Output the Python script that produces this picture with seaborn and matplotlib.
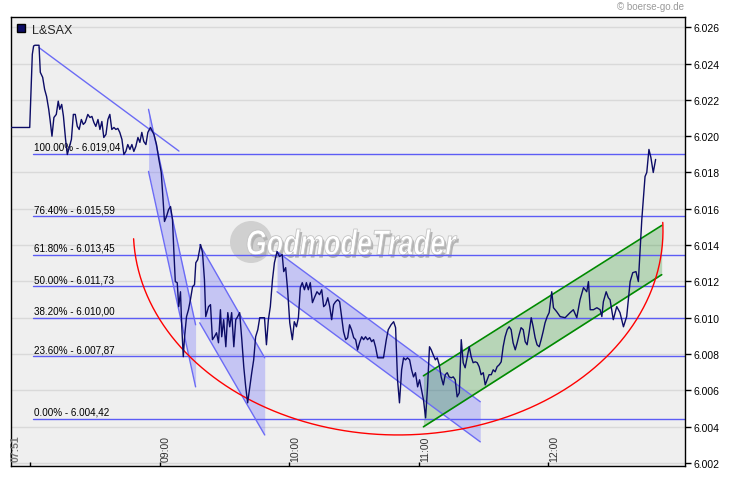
import numpy as np
import pandas as pd
import matplotlib as mpl
mpl.use("Agg")
import matplotlib.pyplot as plt
import seaborn as sns
from matplotlib.patches import Patch, Ellipse, PathPatch
from matplotlib.textpath import TextPath
from matplotlib.font_manager import FontProperties
from matplotlib.transforms import Affine2D, IdentityTransform

# minutes relative to 09:00 (07:51 = -69)
minutes = [
    -69.0, -60.1, -58.9, -58.3, -57.7, -55.8, -55.2, -54.1, -53.2, -52.3, -51.3, -50.7,
    -49.8, -48.9, -47.8, -46.9, -46.2, -45.3, -44.5, -43.5, -42.7, -41.8, -40.8, -39.9,
    -39.0, -38.1, -37.2, -36.2, -35.3, -34.4, -33.2, -32.2, -31.3, -30.4, -29.5, -28.5,
    -27.6, -26.7, -25.8, -24.8, -23.9, -23.0, -22.1, -21.1, -20.2, -19.3, -18.4, -17.4,
    -16.5, -15.6, -14.7, -13.7, -12.8, -11.9, -11.0, -10.0, -9.1, -8.2, -7.3, -6.3,
    -5.4, -4.2, -2.6, -1.4, -0.3,
    0.8, 1.7, 2.3, 3.2, 4.2, 5.1, 6.0, 6.6, 7.3, 8.2, 8.9, 9.7, 10.3, 11.0, 11.6, 12.5,
    13.4, 14.3, 15.3, 16.2, 16.8, 17.7, 19.0, 19.9, 20.8, 21.4, 22.7, 23.6, 24.5, 25.4,
    26.4, 27.3, 28.2, 28.8, 29.7, 30.7, 31.6, 32.5, 33.4, 34.4, 35.3, 36.2, 37.1, 38.1,
    39.0, 39.9, 40.8, 41.8, 42.7, 43.6, 44.5, 45.5, 46.4, 47.3, 48.6, 49.5, 50.4, 51.3,
    52.3, 53.2, 54.4,
    55.6, 56.8, 57.5, 58.4, 59.3, 60.3, 61.5, 62.4, 63.4, 64.3, 65.2, 66.1, 67.1, 68.0,
    68.9, 69.8, 70.8, 71.7, 72.9, 74.1, 75.1, 76.0, 76.9, 77.9, 78.8, 79.7, 80.6, 81.5,
    82.5, 83.4, 84.3, 85.2, 86.2, 87.1, 88.0, 88.9, 89.9, 90.8, 91.7, 92.6, 93.6, 94.5,
    95.4, 96.3, 97.3, 98.2, 99.1, 100.0, 101.0, 101.9, 102.8, 103.7, 105.0, 105.9, 107.2,
    108.4, 109.3, 110.2, 111.1, 112.1, 113.0, 113.9, 114.8, 115.8, 116.7, 117.6, 118.5,
    119.5, 120.4, 121.3, 122.2, 123.2, 124.1, 125.0,
    125.8, 126.7, 127.7, 128.6, 129.5, 130.4, 131.4, 132.3, 133.2, 134.1, 135.1, 136.0,
    136.9, 137.8, 138.8, 139.7, 140.6, 141.5, 142.5, 143.4, 144.3, 145.2, 146.2, 147.1,
    148.0, 148.9, 149.9, 150.8, 151.7, 152.6, 153.6, 154.5, 155.4, 156.3, 157.3, 158.2,
    159.1, 160.0, 161.0, 161.9, 162.8, 163.7, 164.7, 165.6, 166.5, 167.4, 168.4, 169.3,
    170.2, 171.1, 172.1, 173.0, 173.9, 174.8, 175.8, 176.7, 177.6, 178.5, 179.5, 180.4,
    181.6, 182.4, 183.9, 185.5, 187.8, 190.1, 191.6, 193.2, 194.7, 196.3, 197.8, 198.6,
    199.4, 200.9, 202.5, 204.0, 204.8, 205.5, 206.8, 207.8, 208.6, 210.1, 211.7, 213.2,
    214.8, 216.3, 217.9, 219.1, 220.6, 221.7, 222.5, 223.3, 224.0, 224.8, 225.6, 226.6,
    227.5, 228.6, 229.7,
]
prices = [
    6.02048, 6.02048, 6.02451, 6.02497, 6.02501, 6.02501, 6.02352, 6.02324, 6.02258, 6.02219, 6.02148, 6.02092,
    6.02000, 6.02103, 6.02120, 6.02193, 6.02148, 6.02175, 6.02111, 6.01982, 6.01899, 6.01938, 6.01982, 6.02120,
    6.02120, 6.02055, 6.02037, 6.02092, 6.02065, 6.02076, 6.02120, 6.02103, 6.02109, 6.02076, 6.02054, 6.02092,
    6.02037, 6.02081, 6.01993, 6.02010, 6.02092, 6.02120, 6.02037, 6.02048, 6.02037, 6.02043, 6.02021, 6.01982,
    6.01899, 6.01916, 6.01954, 6.01927, 6.01954, 6.01916, 6.01943, 6.01993, 6.01966, 6.02021, 6.01971, 6.01954,
    6.02021, 6.02048, 6.02010, 6.01954, 6.01872,
    6.01800, 6.01634, 6.01530, 6.01557, 6.01596, 6.01612, 6.01541, 6.01375, 6.01199, 6.01193, 6.01061, 6.01143, 6.00950, 6.00785, 6.00895, 6.01006,
    6.01044, 6.01099, 6.01171, 6.01182, 6.01303, 6.01320, 6.01403, 6.01359, 6.01210, 6.01006, 6.01061, 6.01072, 6.00879, 6.00895,
    6.00917, 6.00862, 6.01044, 6.00895, 6.00989, 6.00840, 6.01028, 6.00950, 6.01028, 6.00840, 6.00989, 6.01006, 6.01028, 6.00879,
    6.00730, 6.00619, 6.00531, 6.00619, 6.00697, 6.00768, 6.00895, 6.00934, 6.01000, 6.01000, 6.01000, 6.00851, 6.00989, 6.01061,
    6.01210, 6.01303, 6.01364,
    6.01337, 6.01348, 6.01254, 6.01276, 6.01154, 6.00972, 6.00879, 6.00978, 6.00950, 6.01000, 6.01166, 6.01193, 6.01154, 6.01193,
    6.01154, 6.01193, 6.01083, 6.01110, 6.01143, 6.01127, 6.01154, 6.01061, 6.01072, 6.01110, 6.01061, 6.00989, 6.01072, 6.01088,
    6.01099, 6.01088, 6.01006, 6.00923, 6.00879, 6.00890, 6.00961, 6.00934, 6.00890, 6.00879, 6.00823, 6.00862, 6.00895, 6.00879,
    6.00895, 6.00879, 6.00890, 6.00868, 6.00879, 6.00840, 6.00779, 6.00779, 6.00779, 6.00779, 6.00879, 6.00934, 6.00961,
    6.00978, 6.00945, 6.00658, 6.00531, 6.00713, 6.00779, 6.00768, 6.00779, 6.00768, 6.00713, 6.00674, 6.00697,
    6.00619, 6.00658, 6.00603, 6.00548, 6.00448, 6.00619, 6.00840,
    6.00823, 6.00796, 6.00768, 6.00779, 6.00741, 6.00674, 6.00630, 6.00686, 6.00697, 6.00674, 6.00669, 6.00674,
    6.00658, 6.00564, 6.00586, 6.00879, 6.00752, 6.00724, 6.00785, 6.00840, 6.00785, 6.00752, 6.00757, 6.00752,
    6.00730, 6.00686, 6.00697, 6.00630, 6.00658, 6.00686, 6.00686, 6.00713, 6.00702, 6.00730, 6.00741, 6.00757,
    6.00840, 6.00895, 6.00934, 6.00950, 6.00934, 6.00862, 6.00823, 6.00862, 6.00906, 6.00945, 6.00934, 6.00868,
    6.00851, 6.00917, 6.01000, 6.00950, 6.00890, 6.00851, 6.00840, 6.00879, 6.00923, 6.00972, 6.01006, 6.01028,
    6.01143, 6.01055, 6.01033, 6.01006, 6.01000, 6.01028, 6.01044, 6.01000, 6.01099, 6.01166, 6.01143, 6.01199,
    6.01044, 6.01044, 6.01055, 6.01044, 6.01006, 6.01088, 6.01143, 6.01110, 6.01099, 6.00989, 6.01061, 6.01028,
    6.00950, 6.01006, 6.01199, 6.01248, 6.01254, 6.01199, 6.01375, 6.01541, 6.01651, 6.01778, 6.01800, 6.01927,
    6.01883, 6.01800, 6.01872,
]

# fibonacci retracement levels
fib_pct = ["100.00%", "76.40%", "61.80%", "50.00%", "38.20%", "23.60%", "0.00%"]
fib_levels = [6.01904, 6.01559, 6.01345, 6.01173, 6.01000, 6.00787, 6.00442]
fib_start = -58.7

# drawing tools: trend line and channels (start/end minute, upper/lower price)
trend_x = [-55.8, 9.0]
trend_y = [6.02488, 6.01918]
blue_channels = [
    ([-5.1, 16.7], [6.02148, 6.00961], [6.01806, 6.00619]),
    ([18.6, 48.7], [6.01403, 6.00779], [6.00972, 6.00354]),
    ([54.4, 148.5], [6.01364, 6.00537], [6.01143, 6.00316]),
]
green_x = [122.2, 232.5]
green_upper = [6.00680, 6.01508]
green_lower = [6.00399, 6.01237]

# red arc (lower half ellipse)
arc_center = (110.5, 6.0148)
arc_width = 122.6
arc_height = 0.01126

y_ticks = np.arange(6.002, 6.0261, 0.002)
x_ticks = [-60, 0, 60, 120, 180]
x_labels = ["09:00", "10:00", "11:00", "12:00"]

sns.set_style("white")
plt.rcParams["font.family"] = ["Liberation Sans", "DejaVu Sans"]

navy = "#0c0c66"
fib_blue = "#5c5cf5"

fig = plt.figure(figsize=(7.3, 4.81), dpi=100)
ax = fig.add_axes([10.5 / 730, 14 / 481, 674.5 / 730, 448.7 / 481])
ax.set_facecolor("#efefef")

ax.set_xlim(-69, 243.3)
ax.set_ylim(6.00183, 6.02655)

for t in y_ticks:
    ax.axhline(t, color="#d9d9d9", lw=1, zorder=0)

# watermark: grey disc + condensed italic logo text (pixel box 247..457 x 230..255)
ax.add_patch(Ellipse((0.3566, 0.4992), 0.0623, 0.0936, transform=ax.transAxes,
                     facecolor="#d0d0d0", edgecolor="none", zorder=0.5))
tp = TextPath((0, 0), "GodmodeTrader", size=10,
              prop=FontProperties(family="Liberation Sans", weight="bold", style="italic"))
ext = tp.get_extents()
sx = 210 / ext.width
sy = 26 / ext.height
for dx, dy, fc, ec, z in [(2, -3, "#b4b4b4", "none", 0.55), (0, 0, "white", "#c4c4c4", 0.6)]:
    tr = Affine2D().translate(-ext.x0, -ext.y0).scale(sx, sy).translate(247 + dx, 481 - 256 + dy)
    ax.add_patch(PathPatch(tr.transform_path(tp), transform=IdentityTransform(),
                           facecolor=fc, edgecolor=ec, lw=0.6, zorder=z))

# fib lines and labels
for pct, lev in zip(fib_pct, fib_levels):
    ax.plot([fib_start, 243.3], [lev, lev], color=fib_blue, lw=1, zorder=2)
    s = "{:.5f}".format(lev)
    txt = "{} - {}.{},{}".format(pct, s[0], s[2:5], s[5:])
    ax.annotate(txt, (fib_start, lev), xytext=(1, 1.5), textcoords="offset points",
                va="bottom", ha="left", fontsize=7.1, color="black", zorder=3)

# channels
for cx, up, lo in blue_channels:
    ax.fill_between(cx, up, lo, color="#6666ff", alpha=0.3, lw=0, zorder=1)
    ax.plot(cx, up, color="#6b6bf5", lw=1, zorder=2)
    ax.plot(cx, lo, color="#6b6bf5", lw=1, zorder=2)
ax.plot(trend_x, trend_y, color="#6b6bf5", lw=1, zorder=2)

ax.fill_between(green_x, green_upper, green_lower, color="#008000", alpha=0.23, lw=0, zorder=1)
ax.plot(green_x, green_upper, color="#008a00", lw=1.2, zorder=2)
ax.plot(green_x, green_lower, color="#008a00", lw=1.2, zorder=2)

t = np.linspace(np.pi + 0.04, 2 * np.pi + 0.04, 200)
ax.plot(arc_center[0] + arc_width * np.cos(t), arc_center[1] + arc_height * np.sin(t),
        color="red", lw=1, zorder=2)

# price line
df = pd.DataFrame({"minute": minutes, "price": prices})
sns.lineplot(data=df, x="minute", y="price", color=navy, lw=1, estimator=None,
             sort=False, ax=ax, zorder=4)

ax.set_xlabel("")
ax.set_ylabel("")

ax.yaxis.tick_right()
ax.set_yticks(y_ticks)
ax.set_yticklabels(["{:.3f}".format(v) for v in y_ticks])
ax.tick_params(axis="y", direction="out", length=4, width=1, pad=2, labelsize=7.5,
               colors="black", right=True, left=False)

ax.set_xticks(x_ticks)
ax.set_xticklabels([])
ax.tick_params(axis="x", direction="in", length=3, width=1, bottom=True, colors="black")
for xt, lab in zip(x_ticks[1:], x_labels):
    ax.text(xt + 0.5, 0.012, lab, transform=ax.get_xaxis_transform(), rotation=90,
            ha="left", va="bottom", fontsize=7.5, color="#333333")
ax.text(-68.8, 0.012, "07:51", transform=ax.get_xaxis_transform(), rotation=90,
        ha="left", va="bottom", fontsize=7.5, color="#777777", fontweight="bold")

for s in ax.spines.values():
    s.set_color("black")
    s.set_linewidth(1)
    s.set_visible(True)

ax.legend(handles=[Patch(facecolor=navy, edgecolor="black", label="L&SAX")],
          loc="upper left", bbox_to_anchor=(0.0, 1.0), borderaxespad=0.1,
          handlelength=0.65, handleheight=0.65, handletextpad=0.6, frameon=False,
          fontsize=9)

fig.text(684 / 730, 1 - 7 / 481, "© boerse-go.de", ha="right", va="center",
         fontsize=7, color="#9a9a9a")

fig.savefig("out.png", dpi=100, facecolor="white")
